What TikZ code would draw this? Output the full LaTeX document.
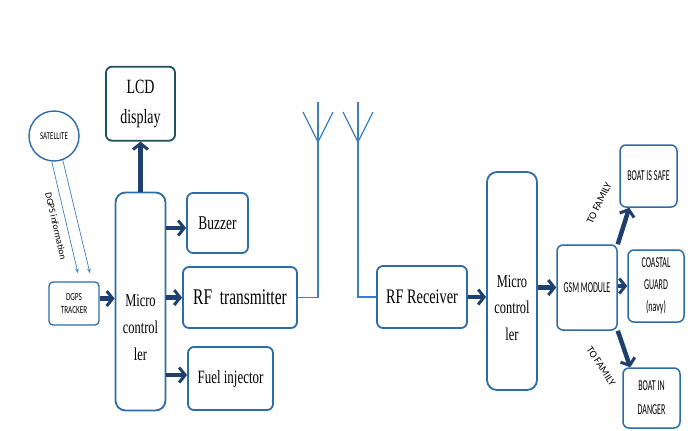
\documentclass[tikz,border=0pt]{standalone}
\usepackage{fontspec}
\setmainfont{Liberation Serif}
\newfontfamily\capsfont{Carlito}
\usetikzlibrary{arrows.meta, positioning}
\definecolor{boxblue}{HTML}{2E6CA8}
\definecolor{navyarrow}{HTML}{1F3F6E}
\definecolor{lcdteal}{HTML}{1E5060}
\definecolor{antblue}{HTML}{3F7FC0}
\newcommand{\tallbox}[2]{\scalebox{1}[#1]{#2}}

\begin{document}
\begin{tikzpicture}[
x=1bp, y=-1bp,
blk/.style={draw=boxblue, line width=1.8bp, rounded corners=6bp, fill=white,
  inner sep=0pt, align=center},
mcu/.style={blk, rounded corners=10bp, minimum width=50bp, minimum height=218bp},
txt/.style={align=center, inner sep=0pt},
tag/.style={font=\capsfont\fontsize{8}{22}\selectfont, align=center, inner sep=0pt},
thk/.style={draw=navyarrow, line width=4.5bp,
  -{Straight Barb[length=6bp,width=15bp,line width=3bp]}},
ant/.style={draw=antblue, line width=1.2bp},
thin/.style={draw=antblue, line width=0.7bp, -{Stealth[length=5bp,width=3.5bp]}},
]
\useasboundingbox (0,0) rectangle (697,430);

% transmitting side
\node[circle, draw=boxblue, line width=1.4bp, minimum size=50bp, tag,
  font=\capsfont\fontsize{7}{9}\selectfont] (SAT) at (54,136) {\tallbox{1.5}{SATELLITE}};
\node[blk, line width=1.3bp, rounded corners=4bp, minimum width=50bp, minimum height=43bp,
  font=\capsfont\fontsize{7.2}{13}\selectfont] (GPS) at (74,303.5)
  {\tallbox{1.5}{DGPS}\\\tallbox{1.5}{TRACKER}};
\node[mcu] (MC1) at (140.5,301.5) {};
\node[txt, font=\fontsize{12.5}{27}\selectfont] (MC1t) at ([yshift=-26bp]MC1.center)
  {\tallbox{1.45}{Micro}\\\tallbox{1.45}{control}\\\tallbox{1.45}{ler}};
\node[blk, draw=lcdteal, minimum width=69bp, minimum height=74bp, above=50bp of MC1,
  font=\fontsize{14}{30}\selectfont] (LCD) {\tallbox{1.45}{LCD}\\\tallbox{1.45}{display}};
\node[blk, minimum width=61bp, minimum height=60bp, font=\fontsize{13.5}{16}\selectfont]
  (BUZ) at (217.5,223) {\tallbox{1.45}{Buzzer}};
\node[blk, minimum width=114bp, minimum height=61bp, font=\fontsize{15.5}{18}\selectfont]
  (TX) at (240,297.5) {\tallbox{1.45}{RF\ \ transmitter}};
\node[blk, minimum width=85bp, minimum height=63bp, font=\fontsize{13}{16}\selectfont]
  (FUEL) at (230.5,378.5) {\tallbox{1.45}{Fuel injector}};

% receiving side
\node[blk, minimum width=90bp, minimum height=62bp, font=\fontsize{14.3}{17}\selectfont]
  (RX) at (422,297) {\tallbox{1.45}{RF Receiver}};
\node[mcu] (MC2) at (512,281) {};
\node[txt, font=\fontsize{12.5}{27}\selectfont] (MC2t) at ([yshift=-27bp]MC2.center)
  {\tallbox{1.45}{Micro}\\\tallbox{1.45}{control}\\\tallbox{1.45}{ler}};
\node[blk, line width=1.5bp, minimum width=60bp, minimum height=85bp, tag] (GSM) at (587,287.5)
  {\tallbox{1.9}{GSM MODULE}};
\node[blk, line width=1.5bp, minimum width=57bp, minimum height=62bp, tag] (SAFE) at (648.5,176)
  {\tallbox{1.9}{BOAT IS SAFE}};
\node[blk, line width=1.5bp, minimum width=56bp, minimum height=72bp, tag] (CG) at (656,286)
  {\tallbox{1.9}{COASTAL}\\\tallbox{1.9}{GUARD}\\\tallbox{1.9}{(navy)}};
\node[blk, line width=1.5bp, minimum width=57bp, minimum height=60bp, tag,
  font=\capsfont\fontsize{8}{24}\selectfont] (DNG) at (651.5,398)
  {\tallbox{1.9}{BOAT IN}\\\tallbox{1.9}{DANGER}};

% antennas
\coordinate (A1) at (318,142);
\coordinate (A2) at (358,142);
\draw[ant] (TX.east) -| (A1) -- ++(0,-40);
\draw[ant] (A1) -- ++(-15,-30) (A1) -- ++(15,-30);
\draw[ant] (RX.west) -| (A2) -- ++(0,-40);
\draw[ant] (A2) -- ++(-15,-30) (A2) -- ++(15,-30);

% connectors
\draw[thin] (SAT.-95) -- ([xshift=4bp,yshift=8bp]GPS.north);
\draw[thin] (SAT.-70) -- ([xshift=16bp,yshift=8bp]GPS.north);
\node[tag, font=\capsfont\fontsize{9.5}{11}\selectfont, rotate=-77] (INFO) at (56,226) {DGPS information};

\draw[thk] ([yshift=5bp]GPS.east) -- ([yshift=5bp]GPS.east -| MC1.west);
\draw[thk] (MC1.north) -- (LCD.south);
\draw[thk] (MC1.east |- 0,228) -- (BUZ.west |- 0,228);
\draw[thk] (MC1.east |- TX) -- (TX.west);
\draw[thk] (MC1.east |- 0,375) -- (FUEL.west |- 0,375);
\draw[thk] (RX.east) -- (RX.east -| MC2.west);
\draw[thk] (MC2.east |- GSM) -- (GSM.west);
\draw[thk] (GSM.north east) -- ([xshift=10bp]SAFE.south west);
\draw[thk] (GSM.east |- CG) -- (CG.west);
\draw[thk] (GSM.south east) -- ([xshift=8bp]DNG.north west);

\node[tag, font=\capsfont\fontsize{10.5}{12}\selectfont, rotate=64] (FAM1) at (599,203) {TO FAMILY};
\node[tag, font=\capsfont\fontsize{10.5}{12}\selectfont, rotate=-57] (FAM2) at (601,366) {TO FAMILY};
\end{tikzpicture}
\end{document}
